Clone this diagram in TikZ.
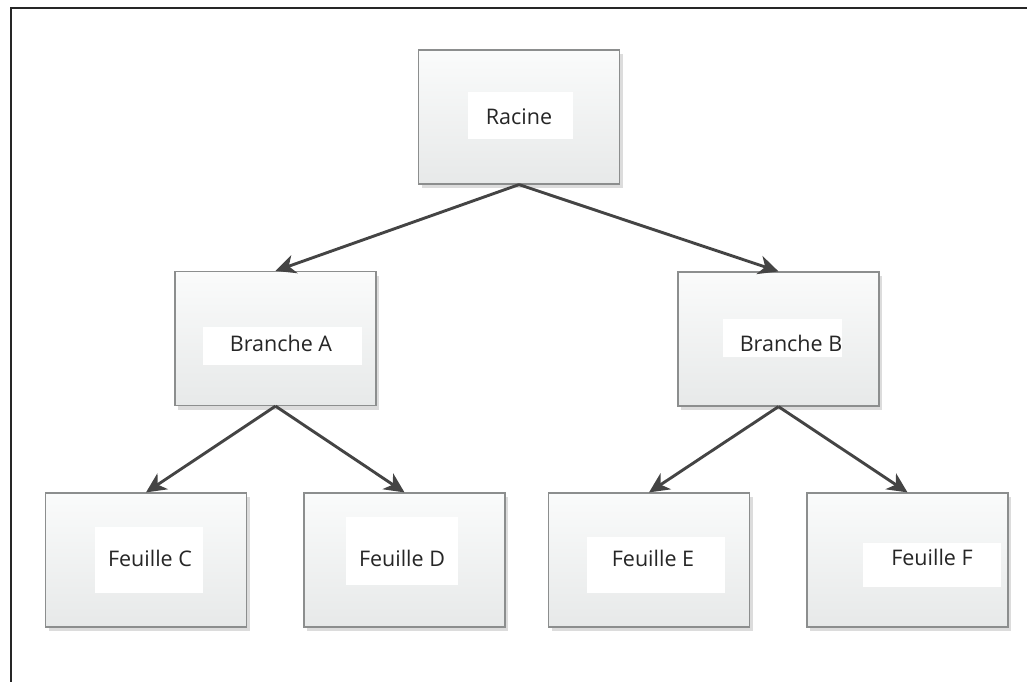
\documentclass[tikz,border=0pt]{standalone}
\usepackage{fontspec}
\setmainfont{Open Sans}
\usetikzlibrary{arrows.meta,shadows}
\definecolor{boxline}{HTML}{8C8E8E}
\definecolor{boxtop}{HTML}{FAFBFB}
\definecolor{boxbot}{HTML}{E7E9E9}
\definecolor{arrcol}{HTML}{444444}
\definecolor{txtcol}{HTML}{262626}
\begin{document}
\begin{tikzpicture}[x=1pt,y=-1pt,
  box/.style={draw=boxline,line width=1.2pt,top color=boxtop,bottom color=boxbot,
    minimum width=201pt,minimum height=134pt,inner sep=0pt,
    drop shadow={shadow xshift=3pt,shadow yshift=-4pt,fill=black!45,opacity=.3}},
  pad/.style={fill=white,inner sep=0pt},
  lab/.style={inner sep=0pt,text=txtcol,font=\fontsize{21.5}{25}\selectfont},
  arr/.style={draw=arrcol,line width=2.9pt,-{Stealth[length=20pt,width=19pt,inset=6pt]}}]
\useasboundingbox (0,0) rectangle (1027,681);
% frame
\draw[line width=2.6pt,black!85] (11,700) -- (11,8) -- (1040,8);
% boxes
\node[box] (racine) at (519,117) {};
\node[box] (ba) at (275.5,338.5) {};
\node[box] (bb) at (778.5,339) {};
\node[box] (fc) at (146,560) {};
\node[box] (fd) at (404.5,560) {};
\node[box] (fe) at (649,560) {};
\node[box] (ff) at (907.5,560) {};
% white pads behind labels
\node[pad,minimum width=105pt,minimum height=47pt] (pracine) at (520.5,115.5) {};
\node[pad,minimum width=159pt,minimum height=38pt] (pba) at (282.5,346) {};
\node[pad,minimum width=119pt,minimum height=38pt] (pbb) at (782.5,338) {};
\node[pad,minimum width=108pt,minimum height=66pt] (pfc) at (149,560) {};
\node[pad,minimum width=112pt,minimum height=68pt] (pfd) at (402,551) {};
\node[pad,minimum width=138pt,minimum height=56pt] (pfe) at (656,565) {};
\node[pad,minimum width=138pt,minimum height=44pt] (pff) at (932,565) {};
% labels
\node[lab] (lracine) at (519,117) {Racine};
\node[lab] (lba) at (281,343) {Branche A};
\node[lab] (lbb) at (791,343) {Branche B};
\node[lab] (lfc) at (150,558) {Feuille C};
\node[lab] (lfd) at (402,558) {Feuille D};
\node[lab] (lfe) at (653,558) {Feuille E};
\node[lab] (lff) at (932,557) {Feuille F};
% connectors
\draw[arr] (racine.south) -- (ba.north);
\draw[arr] (racine.south) -- (bb.north);
\draw[arr] (ba.south) -- (fc.north);
\draw[arr] (ba.south) -- (fd.north);
\draw[arr] (bb.south) -- (fe.north);
\draw[arr] (bb.south) -- (ff.north);
\end{tikzpicture}
\end{document}
